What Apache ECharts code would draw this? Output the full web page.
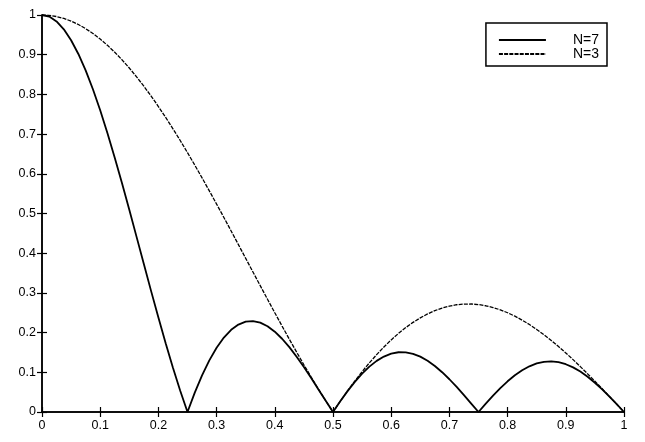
<!DOCTYPE html>
<html><head><meta charset="utf-8">
<script src="https://cdn.jsdelivr.net/npm/echarts@6/dist/echarts.min.js"></script>
<style>html,body{margin:0;padding:0;background:#fff}#c{width:645px;height:442px}</style>
</head><body><div id="c"></div>
<script>
const xValues = [0,0.0125,0.025,0.0375,0.05,0.0625,0.075,0.0875,0.1,0.1125,0.125,0.1375,0.15,0.1625,0.175,0.1875,0.2,0.2125,0.225,0.2375,0.25,0.2625,0.275,0.2875,0.3,0.3125,0.325,0.3375,0.35,0.3625,0.375,0.3875,0.4,0.4125,0.425,0.4375,0.45,0.4625,0.475,0.4875,0.5,0.5125,0.525,0.5375,0.55,0.5625,0.575,0.5875,0.6,0.6125,0.625,0.6375,0.65,0.6625,0.675,0.6875,0.7,0.7125,0.725,0.7375,0.75,0.7625,0.775,0.7875,0.8,0.8125,0.825,0.8375,0.85,0.8625,0.875,0.8875,0.9,0.9125,0.925,0.9375,0.95,0.9625,0.975,0.9875,1];
const n7 = [1,0.9960,0.9839,0.9640,0.9365,0.9018,0.8604,0.8129,0.7600,0.7023,0.6407,0.5761,0.5092,0.4411,0.3726,0.3045,0.2378,0.1732,0.1116,0.0537,0,0.0488,0.0923,0.1300,0.1618,0.1875,0.2070,0.2203,0.2275,0.2290,0.2250,0.2159,0.2023,0.1845,0.1633,0.1393,0.1131,0.0854,0.0569,0.0282,0,0.0271,0.0526,0.0759,0.0966,0.1143,0.1288,0.1396,0.1469,0.1505,0.1503,0.1466,0.1394,0.1291,0.1159,0.1002,0.0825,0.0631,0.0425,0.0213,0,0.0210,0.0412,0.0601,0.0773,0.0924,0.1051,0.1151,0.1223,0.1264,0.1274,0.1254,0.1204,0.1124,0.1018,0.0888,0.0737,0.0568,0.0387,0.0196,0];
const n3 = [1,0.9991,0.9961,0.9913,0.9847,0.9761,0.9656,0.9534,0.9394,0.9236,0.9061,0.8871,0.8664,0.8443,0.8206,0.7957,0.7694,0.7420,0.7134,0.6839,0.6533,0.6219,0.5898,0.5570,0.5237,0.4900,0.4559,0.4215,0.3871,0.3526,0.3182,0.2839,0.25,0.2164,0.1833,0.1508,0.1190,0.0879,0.0576,0.0283,0,0.0272,0.0533,0.0780,0.1016,0.1238,0.1445,0.1638,0.1816,0.1979,0.2126,0.2257,0.2372,0.2470,0.2553,0.2619,0.2668,0.2702,0.2719,0.2720,0.2706,0.2676,0.2632,0.2573,0.25,0.2414,0.2314,0.2203,0.2080,0.1946,0.1802,0.1649,0.1488,0.1319,0.1143,0.0961,0.0775,0.0585,0.0391,0.0196,0];
const seriesNames = ['N=7','N=3'];

const font = 'Liberation Sans, Arial, sans-serif';
const fmt = v => (v === 0 || v === 1) ? String(v) : v.toFixed(1);
const axisBase = {
  type:'value', min:0, max:1, interval:0.1,
  axisLine:{show:true, lineStyle:{color:'#000', width:1.5}},
  axisTick:{show:true, inside:true, length:5, lineStyle:{color:'#000', width:1.2}},
  splitLine:{show:false},
};
const chart = echarts.init(document.getElementById('c'), null, {renderer:'canvas'});
chart.setOption({
  animation:false,
  backgroundColor:'#fff',
  grid:{left:42, right:21, top:15, bottom:30, containLabel:false},
  xAxis:[
    Object.assign({}, axisBase, {position:'bottom', axisLabel:{color:'#000', fontFamily:font, fontSize:12.5, margin:7, formatter:fmt}}),
    Object.assign({}, axisBase, {position:'top', axisLabel:{show:false}})
  ],
  yAxis:[
    Object.assign({}, axisBase, {position:'left', axisLabel:{color:'#000', fontFamily:font, fontSize:12.5, margin:6, formatter:fmt}}),
    Object.assign({}, axisBase, {position:'right', axisLabel:{show:false}})
  ],
  legend:{
    orient:'vertical', right:38, top:23,
    backgroundColor:'#fff',
    borderColor:'#000', borderWidth:1.5, borderRadius:0,
    padding:[10,8,5,12],
    itemWidth:47, itemHeight:12, itemGap:0,
    itemStyle:{opacity:0},
    textStyle:{color:'#000', fontFamily:font, fontSize:14, lineHeight:12, padding:[0,0,0,22]},
    data:seriesNames
  },
  series:[
    {name:seriesNames[0], type:'line', symbol:'none', showSymbol:false,
     data:xValues.map((x,i)=>[x,n7[i]]),
     lineStyle:{color:'#000', width:1.8, type:'solid'}, itemStyle:{color:'#000'}},
    {name:seriesNames[1], type:'line', symbol:'none', showSymbol:false,
     data:xValues.map((x,i)=>[x,n3[i]]),
     lineStyle:{color:'#000', width:1.3, type:[4,1.2]}, itemStyle:{color:'#000'}}
  ]
});
</script></body></html>
